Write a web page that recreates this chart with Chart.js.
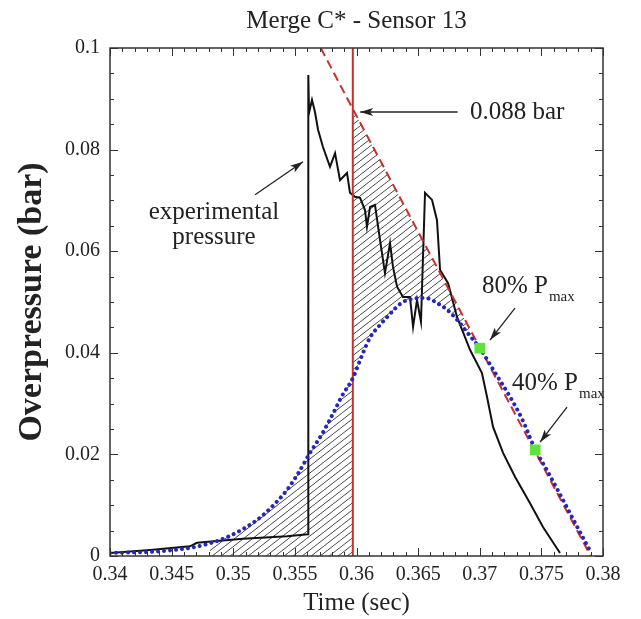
<!DOCTYPE html>
<html><head><meta charset="utf-8">
<script src="https://cdn.jsdelivr.net/npm/chart.js@4.4.1/dist/chart.umd.min.js"></script>
<style>html,body{margin:0;padding:0;background:#fff;}#wrap{width:641px;height:619px;}</style>
</head><body><div id="wrap"><canvas id="c" width="641" height="619"></canvas></div>
<script>
const SERIF = "'Liberation Serif','Times New Roman',Times,serif";

// ---- data (time in s, overpressure in bar) ----
const expTime = [0.3400,0.34325,0.34649,0.34706,0.35079,0.35436,0.35607,0.35609,0.35615,0.35639,0.35663,0.35688,0.35728,0.35785,0.35826,0.35866,0.35923,0.35947,0.35988,0.36029,0.36069,0.36085,0.3611,0.3615,0.36191,0.36231,0.36272,0.36296,0.36329,0.36377,0.36434,0.36459,0.36491,0.36523,0.36556,0.36613,0.36653,0.36678,0.36743,0.36816,0.36921,0.37018,0.37059,0.37108,0.37189,0.37286,0.37408,0.37513,0.37651];
const expPressure = [0.0006,0.0012,0.0019,0.0026,0.0034,0.0039,0.0043,0.0947,0.0872,0.0898,0.0874,0.0839,0.0805,0.0766,0.0793,0.0740,0.0754,0.0715,0.0707,0.0705,0.0681,0.0648,0.0687,0.0691,0.0622,0.0557,0.0616,0.0569,0.0530,0.0510,0.0510,0.0451,0.0504,0.0461,0.0715,0.0701,0.0661,0.0563,0.0537,0.0470,0.0406,0.0360,0.0313,0.0254,0.0203,0.0156,0.0104,0.0057,0.0006];
const fitTime = [0.3400,0.34162,0.34325,0.34487,0.34649,0.34811,0.34949,0.35071,0.35193,0.35314,0.35436,0.35525,0.35623,0.3572,0.35809,0.35882,0.3597,0.36045,0.3611,0.36191,0.36248,0.36312,0.36377,0.3645,0.36515,0.3658,0.36653,0.36734,0.36816,0.36905,0.3700,0.37124,0.37246,0.37343,0.37448,0.37554,0.37676,0.37789,0.37895];
const fitPressure = [0.0006,0.0007,0.0008,0.0011,0.0016,0.0025,0.0037,0.0052,0.0071,0.0097,0.0130,0.0162,0.0203,0.0240,0.0280,0.0315,0.0350,0.0395,0.0430,0.0455,0.0470,0.0487,0.0500,0.0506,0.0508,0.0507,0.0498,0.0485,0.0465,0.0438,0.0409,0.0361,0.0313,0.0270,0.0211,0.0165,0.0110,0.0058,0.0010];
const decayTime = [0.3571, 0.3597, 0.3790];
const decayPressure = [0.1, 0.088, 0];
const arrivalTime = 0.3597;
const markerTime = [0.3700, 0.3745];
const markerPressure = [0.0409, 0.0209];
const hatchStartTime = 0.3465;

const zip = (t, p) => t.map((v, i) => ({x: v, y: p[i]}));
const fitPts = zip(fitTime, fitPressure);
const decayPts = zip(decayTime, decayPressure);
const markerPts = zip(markerTime, markerPressure);

function hatchPattern() {
  const c = document.createElement('canvas');
  c.width = 9; c.height = 7;
  const g = c.getContext('2d');
  g.strokeStyle = '#333'; g.lineWidth = 0.9;
  g.beginPath();
  g.moveTo(0, 7); g.lineTo(9, 0);
  g.moveTo(-9, 7); g.lineTo(0, 0);
  g.moveTo(9, 7); g.lineTo(18, 0);
  g.stroke();
  return g.createPattern(c, 'repeat');
}
const HATCH = hatchPattern();
const RED = '#c8302e';

function arrow(ctx, x1, y1, x2, y2) {
  ctx.beginPath(); ctx.moveTo(x1, y1); ctx.lineTo(x2, y2); ctx.stroke();
  const a = Math.atan2(y2 - y1, x2 - x1), L = 13, W = 4;
  ctx.beginPath();
  ctx.moveTo(x2, y2);
  ctx.lineTo(x2 - L * Math.cos(a) + W * Math.sin(a), y2 - L * Math.sin(a) - W * Math.cos(a));
  ctx.lineTo(x2 - L * 0.75 * Math.cos(a), y2 - L * 0.75 * Math.sin(a));
  ctx.lineTo(x2 - L * Math.cos(a) - W * Math.sin(a), y2 - L * Math.sin(a) + W * Math.cos(a));
  ctx.closePath(); ctx.fill();
}

const frameAndNotes = {
  id: 'frameAndNotes',
  afterDatasetsDraw(chart) {
    const {ctx, chartArea: a, scales: {x, y}} = chart;
    const X = v => x.getPixelForValue(v), Y = v => y.getPixelForValue(v);
    ctx.save();
    ctx.strokeStyle = '#333'; ctx.lineWidth = 1.5;
    ctx.strokeRect(a.left, a.top, a.right - a.left, a.bottom - a.top);
    ctx.lineWidth = 1;
    ctx.beginPath();
    for (let i = 0; i <= 40; i++) {
      const px = Math.round(X(0.34 + i * 0.001)) + 0.5, len = i % 5 === 0 ? 8 : 4;
      ctx.moveTo(px, a.bottom); ctx.lineTo(px, a.bottom - len);
      ctx.moveTo(px, a.top); ctx.lineTo(px, a.top + len);
    }
    for (let i = 0; i <= 20; i++) {
      const py = Math.round(Y(i * 0.005)) + 0.5, len = i % 4 === 0 ? 8 : 4;
      ctx.moveTo(a.left, py); ctx.lineTo(a.left + len, py);
      ctx.moveTo(a.right, py); ctx.lineTo(a.right - len, py);
    }
    ctx.stroke();

    ctx.fillStyle = '#222'; ctx.strokeStyle = '#222'; ctx.lineWidth = 1.3;
    ctx.font = '25px ' + SERIF;
    ctx.textBaseline = 'middle'; ctx.textAlign = 'left';
    ctx.fillText('0.088 bar', X(0.3692), Y(0.0874));
    arrow(ctx, X(0.3682), Y(0.0874), X(0.3603), Y(0.0874));

    ctx.textAlign = 'center';
    ctx.fillText('experimental', X(0.34844), Y(0.0677));
    ctx.fillText('pressure', X(0.34844), Y(0.0628));
    arrow(ctx, X(0.35177), Y(0.0711), X(0.35566), Y(0.0776));

    ctx.textAlign = 'left'; ctx.textBaseline = 'alphabetic';
    const pmax = (label, t, p) => {
      ctx.font = '25px ' + SERIF;
      const x0 = X(t), y0 = Y(p);
      ctx.fillText(label, x0, y0);
      const w = ctx.measureText(label).width;
      ctx.font = '15px ' + SERIF;
      ctx.fillText('max', x0 + w + 1, y0 + 8);
    };
    pmax('80% P', 0.37018, 0.0518);
    arrow(ctx, X(0.37286), Y(0.0488), X(0.37083), Y(0.0425));
    pmax('40% P', 0.37262, 0.0327);
    arrow(ctx, X(0.37708), Y(0.0293), X(0.37489), Y(0.0224));
    ctx.restore();
  }
};

new Chart(document.getElementById('c'), {
  type: 'line',
  data: {
    datasets: [
      { // 0: fitted curve (blue dotted)
        data: fitPts, borderColor: '#2626b8', borderWidth: 4, borderDash: [0.01, 6],
        borderCapStyle: 'round', cubicInterpolationMode: 'monotone', pointRadius: 0, fill: false, order: 1
      },
      { // 1: experimental pressure
        data: zip(expTime, expPressure), borderColor: '#111', borderWidth: 2, tension: 0,
        pointRadius: 0, fill: false, order: 4
      },
      { // 2: arrival time line
        data: [{x: arrivalTime, y: 0}, {x: arrivalTime, y: 0.1}], borderColor: RED, borderWidth: 2,
        pointRadius: 0, fill: false, order: 3
      },
      { // 3: linear decay (red dashed)
        data: decayPts, borderColor: RED, borderWidth: 2, borderDash: [9, 5], tension: 0,
        pointRadius: 0, fill: false, order: 2
      },
      { // 4: 80% / 40% Pmax markers
        data: markerPts, showLine: false, pointStyle: 'rect', pointRadius: 7.5,
        pointBackgroundColor: '#5fe23c', pointBorderWidth: 0, order: 0
      },
      { // 5: hatched area under fit, before arrival
        data: fitPts.filter(p => p.x >= hatchStartTime && p.x <= arrivalTime),
        borderWidth: 0, pointRadius: 0, cubicInterpolationMode: 'monotone',
        backgroundColor: HATCH, fill: 'origin', order: 10
      },
      { // 6: hatched area between decay line and fit
        data: [decayPts[1], markerPts[0]], borderWidth: 0, pointRadius: 0,
        fill: {target: 0, above: HATCH, below: 'rgba(0,0,0,0)'}, order: 11
      }
    ]
  },
  options: {
    responsive: false, animation: false, devicePixelRatio: 1,
    layout: {padding: {left: 0, right: 38, top: 0, bottom: 0}},
    plugins: {
      legend: {display: false}, tooltip: {enabled: false},
      title: {display: true, fullSize: false, text: 'Merge C* - Sensor 13', color: '#222',
        font: {family: SERIF, size: 25, weight: 'normal', lineHeight: 1.2}, padding: {top: 6, bottom: 12}}
    },
    scales: {
      x: {
        type: 'linear', min: 0.34, max: 0.38,
        afterFit(s) { s.height = 63; },
        ticks: {stepSize: 0.005, color: '#222', font: {family: SERIF, size: 20}, padding: 7,
          maxRotation: 0, autoSkip: false, callback: v => String(+v.toFixed(3))},
        grid: {display: false, drawTicks: false}, border: {display: false},
        title: {display: true, text: 'Time (sec)', color: '#222',
          font: {family: SERIF, size: 25, lineHeight: 1.2}, padding: {top: 0, bottom: 1}}
      },
      y: {
        type: 'linear', min: 0, max: 0.1,
        afterFit(s) { s.width = 110; },
        ticks: {stepSize: 0.02, color: '#222', font: {family: SERIF, size: 20}, padding: 10,
          callback: v => v === 0 ? '0' : String(+v.toFixed(2))},
        grid: {display: false, drawTicks: false}, border: {display: false},
        title: {display: true, text: 'Overpressure (bar)', color: '#222',
          font: {family: SERIF, size: 34, weight: 'bold', lineHeight: 1.2}, padding: {top: 12, bottom: 0}}
      }
    }
  },
  plugins: [frameAndNotes]
});
</script></body></html>
